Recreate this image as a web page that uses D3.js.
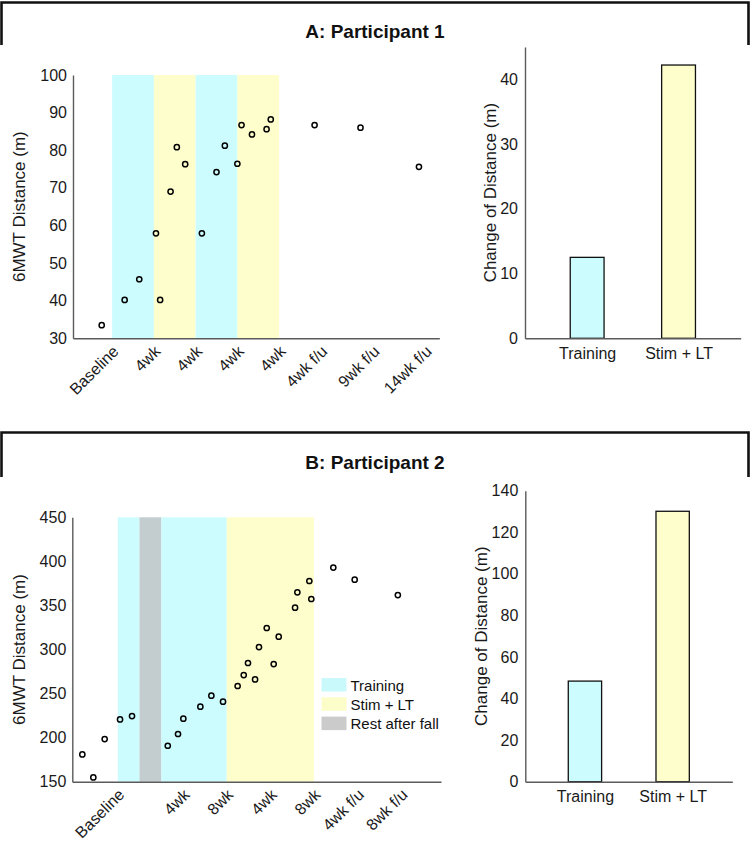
<!DOCTYPE html>
<html>
<head>
<meta charset="utf-8">
<script src="https://cdn.jsdelivr.net/npm/d3@7"></script>
<style>
  html, body { margin: 0; padding: 0; background: #fff; }
  svg { display: block; font-family: "Liberation Sans", Arial, Helvetica, sans-serif; }
</style>
</head>
<body>
<svg id="chart" width="750" height="845"></svg>
<script>
// ---------------- DATA ----------------
const panelTitles = ["A: Participant 1", "B: Participant 2"];

// Participant 1 : weeks from baseline vs 6MWT distance (m)
const weeksA = [-1, 1.2, 2.6, 4.2, 4.6, 5.6, 6.2, 7.0, 8.6, 10.0, 10.8, 12.0, 12.4, 13.4, 14.8, 15.2, 19.4, 23.8, 29.4];
const distA  = [33.5, 40.2, 45.7, 57.9, 40.2, 69.0, 80.8, 76.3, 57.9, 74.2, 81.2, 76.4, 86.7, 84.2, 85.6, 88.2, 86.7, 86.0, 75.6];
const tickWeeksA  = [0, 4, 8, 12, 16, 20, 25, 30];
const tickLabelsA = ["Baseline", "4wk", "4wk", "4wk", "4wk", "4wk f/u", "9wk f/u", "14wk f/u"];
const yTicksA = [30, 40, 50, 60, 70, 80, 90, 100];
const phaseStartA = [0, 4, 8, 12];
const phaseEndA   = [4, 8, 12, 16];
const phaseTypeA  = ["Training", "Stim + LT", "Training", "Stim + LT"];

// Participant 2
const weeksB = [-3.25, -2.24, -1.2, 0.21, 1.31, 4.59, 5.53, 6.02, 7.58, 8.59, 9.66, 11.0, 11.56, 11.95, 12.6, 12.96, 13.67, 14.31, 14.77, 16.27, 16.48, 17.58, 17.76, 19.78, 21.74, 25.7];
const distB  = [181, 154.9, 198.4, 220.7, 224.5, 190.8, 204.1, 221.5, 235.1, 247.6, 240.8, 258.6, 271, 284.7, 266.1, 302.8, 324.4, 283.5, 314.5, 347.5, 364.9, 377.7, 357.3, 392.9, 379.2, 361.8];
const tickWeeksB  = [0, 6, 10, 14, 18, 22, 26];
const tickLabelsB = ["Baseline", "4wk", "8wk", "4wk", "8wk", "4wk f/u", "8wk f/u"];
const yTicksB = [150, 200, 250, 300, 350, 400, 450];
const phaseStartB = [0, 2, 4, 10];
const phaseEndB   = [2, 4, 10, 18];
const phaseTypeB  = ["Training", "Rest after fall", "Training", "Stim + LT"];

// Change of distance bars
const barCategories = ["Training", "Stim + LT"];
const barValuesA = [12.5, 42.2];
const barValuesB = [48.4, 130.1];
const barTicksA = [0, 10, 20, 30, 40];
const barTicksB = [0, 20, 40, 60, 80, 100, 120, 140];

const legendLabels = ["Training", "Stim + LT", "Rest after fall"];

// ---------------- STYLE ----------------
const phaseColor = { "Training": "#ccfcfe", "Stim + LT": "#fefecc", "Rest after fall": "#c3cdcf" };
const legendColor = { "Training": "#c9f9fb", "Stim + LT": "#fdfdc9", "Rest after fall": "#cbcbcb" };
const axisColor = "#5a5a5a";

const svg = d3.select("#chart");

// ---------- panel headers ----------
function header(yTop, yBottom, title, titleY) {
  svg.append("path")
    .attr("d", `M1.5,${yBottom} L1.5,${yTop} L748.5,${yTop} L748.5,${yBottom}`)
    .attr("fill", "none").attr("stroke", "#111").attr("stroke-width", 2.6);
  svg.append("text").attr("x", 375).attr("y", titleY)
    .attr("text-anchor", "middle").attr("font-weight", "bold")
    .attr("font-size", 19).attr("fill", "#111").text(title);
}
header(2.5, 45, panelTitles[0], 38);
header(432.5, 477, panelTitles[1], 469);

// ---------- scatter panel ----------
function scatter(cfg) {
  const x = d3.scaleLinear().domain(cfg.xDomain).range([cfg.left, cfg.right]);
  const y = d3.scaleLinear().domain(cfg.yDomain).range([cfg.bottom, cfg.top]);
  const g = svg.append("g");

  // phases
  g.selectAll("rect.phase").data(cfg.phaseStart.map((s, i) => ({ s, e: cfg.phaseEnd[i], t: cfg.phaseType[i] })))
    .enter().append("rect")
    .attr("x", d => x(d.s)).attr("width", d => x(d.e) - x(d.s))
    .attr("y", y(cfg.yDomain[1])).attr("height", y(cfg.yDomain[0]) - y(cfg.yDomain[1]))
    .attr("fill", d => phaseColor[d.t]);

  // y axis
  const yAxis = g.append("g").attr("transform", `translate(${cfg.left},0)`)
    .call(d3.axisLeft(y).tickValues(cfg.yTicks).tickSize(0).tickPadding(6));
  yAxis.select(".domain").attr("stroke", axisColor).attr("stroke-width", 1.4);
  yAxis.selectAll("text").attr("font-size", 16).attr("fill", "#1a1a1a").attr("font-family", null);

  // x axis
  const xAxis = g.append("g").attr("transform", `translate(0,${cfg.bottom})`)
    .call(d3.axisBottom(x).tickValues(cfg.tickWeeks).tickSize(0).tickFormat((d, i) => cfg.tickLabels[i]));
  xAxis.select(".domain").attr("stroke", axisColor).attr("stroke-width", 1.4);
  xAxis.selectAll(".tick text")
    .attr("font-size", 16).attr("fill", "#1a1a1a").attr("font-family", null)
    .attr("text-anchor", "end").attr("x", -5).attr("y", 5).attr("dy", "0.62em")
    .attr("transform", "rotate(-45)");

  // y label
  g.append("text").attr("transform", `translate(${cfg.labelX},${(cfg.top + cfg.bottom) / 2}) rotate(-90)`)
    .attr("text-anchor", "middle").attr("font-size", 17).attr("fill", "#1a1a1a")
    .text("6MWT Distance (m)");

  // points
  g.selectAll("circle").data(cfg.weeks.map((w, i) => [w, cfg.dist[i]]))
    .enter().append("circle")
    .attr("cx", d => x(d[0])).attr("cy", d => y(d[1])).attr("r", 2.6)
    .attr("fill", "none").attr("stroke", "#000").attr("stroke-width", 1.5);
  return { x, y, g };
}

scatter({
  left: 73, right: 439.3, top: 75, bottom: 338.3, labelX: 25,
  xDomain: [-3.75, 31.35], yDomain: [30, 100],
  weeks: weeksA, dist: distA, tickWeeks: tickWeeksA, tickLabels: tickLabelsA, yTicks: yTicksA,
  phaseStart: phaseStartA, phaseEnd: phaseEndA, phaseType: phaseTypeA
});

scatter({
  left: 72.3, right: 441, top: 517.3, bottom: 781.7, labelX: 25,
  xDomain: [-4.17, 29.66], yDomain: [150, 450],
  weeks: weeksB, dist: distB, tickWeeks: tickWeeksB, tickLabels: tickLabelsB, yTicks: yTicksB,
  phaseStart: phaseStartB, phaseEnd: phaseEndB, phaseType: phaseTypeB
});

// legend (panel B)
const leg = svg.append("g").attr("transform", "translate(321.5,678)");
legendLabels.forEach((lab, i) => {
  leg.append("rect").attr("x", 0).attr("y", i * 19.3).attr("width", 25).attr("height", 13.5)
    .attr("fill", legendColor[lab]);
  leg.append("text").attr("x", 29).attr("y", i * 19.3 + 12.5)
    .attr("font-size", 15).attr("fill", "#111").text(lab);
});

// ---------- bar panel ----------
function bars(cfg) {
  const x = d3.scaleLinear().domain([0.32, 2.68]).range([cfg.left, cfg.right]);
  const y = d3.scaleLinear().domain(cfg.yDomain).range([cfg.bottom, cfg.top]);
  const g = svg.append("g");
  const bw = cfg.barWidth;

  g.selectAll("rect").data(cfg.values.map((v, i) => ({ v, i, c: barCategories[i] })))
    .enter().append("rect")
    .attr("x", d => x(d.i + 1 - bw / 2)).attr("width", d => x(d.i + 1 + bw / 2) - x(d.i + 1 - bw / 2))
    .attr("y", d => y(d.v)).attr("height", d => y(0) - y(d.v))
    .attr("fill", d => phaseColor[d.c]).attr("stroke", "#111").attr("stroke-width", 1.3);

  const yAxis = g.append("g").attr("transform", `translate(${cfg.left},0)`)
    .call(d3.axisLeft(y).tickValues(cfg.yTicks).tickSize(0).tickPadding(7));
  yAxis.select(".domain").attr("stroke", axisColor).attr("stroke-width", 1.4);
  yAxis.selectAll("text").attr("font-size", 16).attr("fill", "#1a1a1a").attr("font-family", null);

  const xAxis = g.append("g").attr("transform", `translate(0,${cfg.bottom})`)
    .call(d3.axisBottom(x).tickValues([1, 2]).tickSize(0).tickPadding(9).tickFormat((d, i) => barCategories[i]));
  xAxis.select(".domain").attr("stroke", axisColor).attr("stroke-width", 1.4);
  xAxis.selectAll("text").attr("font-size", 16).attr("fill", "#1a1a1a").attr("font-family", null);

  g.append("text").attr("transform", `translate(${cfg.labelX},${(cfg.top + cfg.bottom) / 2}) rotate(-90)`)
    .attr("text-anchor", "middle").attr("font-size", 17).attr("fill", "#1a1a1a")
    .text("Change of Distance (m)");
}

bars({ left: 525, right: 740.7, top: 46.9, bottom: 338.3, yDomain: [0, 45], values: barValuesA,
       yTicks: barTicksA, barWidth: 0.37, labelX: 496 });
bars({ left: 525.3, right: 732.3, top: 490.7, bottom: 781.7, yDomain: [0, 140], values: barValuesB,
       yTicks: barTicksB, barWidth: 0.38, labelX: 487 });
</script>
</body>
</html>
